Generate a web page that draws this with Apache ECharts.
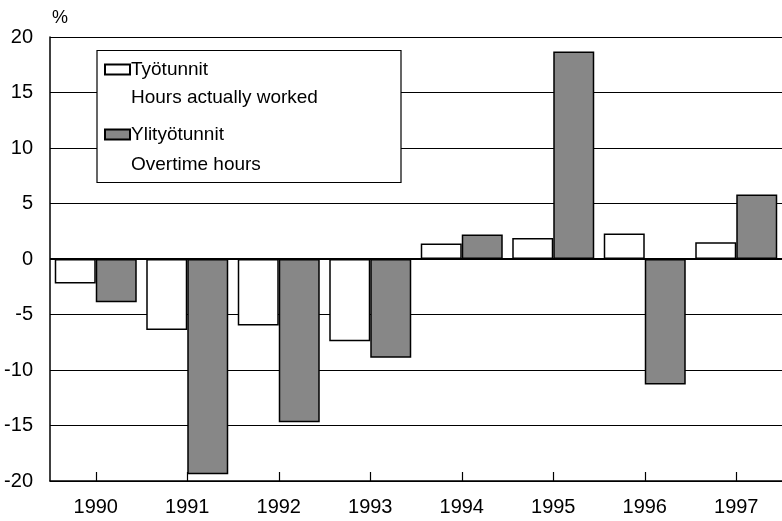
<!DOCTYPE html>
<html>
<head>
<meta charset="utf-8">
<script src="https://cdn.jsdelivr.net/npm/echarts@6/dist/echarts.min.js"></script>
<style>
html,body{margin:0;padding:0;background:#fff;}
#c{width:782px;height:521px;}
</style>
</head>
<body>
<div id="c"></div>
<script>
const years = ['1990','1991','1992','1993','1994','1995','1996','1997'];
const worked = [-2.2, -6.4, -6.0, -7.4, 1.4, 1.9, 2.3, 1.5];
const overtime = [-3.9, -19.4, -14.7, -8.9, 2.2, 18.7, -11.3, 5.8];
const seriesNames = ['Työtunnit', 'Ylityötunnit'];
const seriesSubNames = ['Hours actually worked', 'Overtime hours'];
const yTicks = [-20, -15, -10, -5, 0, 5, 10, 15, 20];

const FONT = "'Liberation Sans Narrow', 'Liberation Sans', sans-serif";
const chart = echarts.init(document.getElementById('c'), null, {renderer: 'canvas'});

chart.setOption({
  animation: false,
  backgroundColor: '#fff',
  textStyle: {fontFamily: FONT},
  grid: {left: 50, top: 37, width: 739, height: 444, containLabel: false},
  xAxis: {
    type: 'category',
    data: years,
    boundaryGap: true,
    axisLine: {onZero: false, lineStyle: {color: '#000', width: 1.5}},
    axisTick: {show: true, inside: true, alignWithLabel: true, length: 9, lineStyle: {color: '#000', width: 1.2}},
    axisLabel: {color: '#000', fontSize: 20, margin: 16, fontFamily: FONT},
    splitLine: {show: false}
  },
  yAxis: {
    type: 'value',
    min: yTicks[0],
    max: yTicks[yTicks.length - 1],
    interval: 5,
    name: '%',
    nameLocation: 'end',
    nameGap: 10,
    nameTextStyle: {color: '#000', fontSize: 18, align: 'left', padding: [0, 0, 0, 2], fontFamily: FONT},
    axisLine: {show: true, lineStyle: {color: '#000', width: 1.5}},
    axisTick: {show: false},
    axisLabel: {color: '#000', fontSize: 20, margin: 17, fontFamily: FONT},
    splitLine: {show: true, lineStyle: {color: '#000', width: 1.2}}
  },
  legend: {
    orient: 'vertical',
    left: 104,
    top: 60,
    padding: 0,
    itemWidth: 25,
    itemHeight: 10,
    itemGap: 46,
    icon: 'rect',
    z: 6,
    textStyle: {color: '#000', fontSize: 19, fontFamily: FONT, padding: [0, 0, 0, -4]},
    data: seriesNames
  },
  graphic: [
    {type: 'rect', z: 4, shape: {x: 97, y: 50.5, width: 304, height: 132},
     style: {fill: '#fff', stroke: '#000', lineWidth: 1.2}},
    {type: 'text', z: 6, x: 131, y: 97.5,
     style: {text: seriesSubNames[0], fill: '#000', font: '19px ' + FONT, textVerticalAlign: 'middle', verticalAlign: 'middle'}},
    {type: 'text', z: 6, x: 131, y: 164.5,
     style: {text: seriesSubNames[1], fill: '#000', font: '19px ' + FONT, textVerticalAlign: 'middle', verticalAlign: 'middle'}}
  ],
  series: [
    {
      name: seriesNames[0],
      type: 'bar',
      data: worked,
      barWidth: 41,
      barGap: '0%',
      itemStyle: {color: '#fff', borderColor: '#000', borderWidth: 1.5},
      markLine: {
        silent: true,
        symbol: 'none',
        label: {show: false},
        lineStyle: {color: '#000', width: 2, type: 'solid'},
        data: [{yAxis: 0}]
      }
    },
    {
      name: seriesNames[1],
      type: 'bar',
      data: overtime,
      barWidth: 41,
      barGap: '0%',
      itemStyle: {color: '#878787', borderColor: '#000', borderWidth: 1.5}
    }
  ]
});
</script>
</body>
</html>
